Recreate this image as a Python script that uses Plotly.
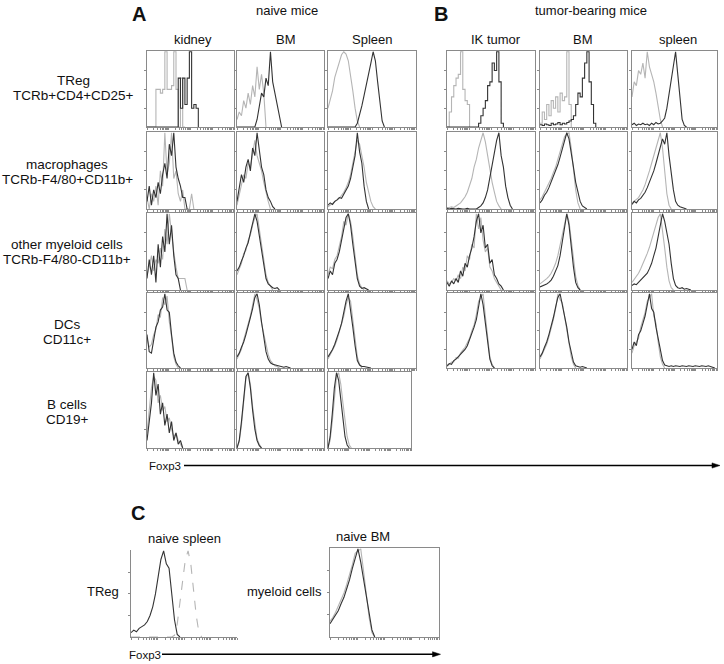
import math
import plotly.graph_objects as go

W, H = 724, 664

# Foxp3 fluorescence bins (log scale, 4 decades across each histogram)
BINS = [0, 1, 2, 3, 4, 5, 6, 7, 8, 9, 10, 11, 12, 13, 14, 15, 16, 17, 18, 19,
        20, 21, 22, 23, 24, 25, 26, 27, 28, 29, 30, 31, 32, 33, 34, 35, 36, 37, 38, 39]

# ---------------- A: naive mice (% of max) ----------------
A_KID_TREG_LIGHT = [0, 0, 0, 0, 50, 50, 45, 50, 100, 50, 50, 55, 100, 50, 0, 65, 0, 0]
A_KID_TREG_DARK = [0, 0, 0, 0, 0, 0, 0, 0, 0, 0, 0, 0, 0, 0, 65, 25, 65, 30, 65, 100, 25, 30, 25, 0]
A_KID_MAC_LIGHT = [15, 0, 20, 10, 30, 5, 50, 30, 100, 45, 60, 100, 40, 50, 20, 10, 25, 0, 0, 0, 20, 0]
A_KID_MAC_DARK = [10, 30, 5, 25, 15, 35, 20, 45, 60, 40, 85, 70, 100, 55, 40, 30, 15, 15, 0]
A_KID_MYE_LIGHT = [20, 30, 45, 25, 40, 35, 55, 40, 80, 60, 100, 70, 50, 30, 15, 15, 15, 15, 0]
A_KID_MYE_DARK = [15, 40, 20, 45, 10, 60, 30, 70, 50, 100, 60, 85, 45, 20, 15, 0]
A_KID_DC_LIGHT = [40, 28, 32, 45, 52, 72, 68, 95, 85, 97, 62, 42, 15, 5, 0]
A_KID_DC_DARK = [45, 22, 20, 38, 55, 62, 78, 82, 100, 78, 75, 45, 20, 8, 3, 0]
A_KID_B_LIGHT = [20, 50, 80, 95, 90, 60, 70, 50, 55, 35, 40, 25, 15, 20, 10, 5, 0]
A_KID_B_DARK = [10, 35, 60, 100, 70, 85, 45, 60, 30, 45, 20, 35, 10, 20, 5, 10, 0]

A_BM_TREG_LIGHT = [10, 20, 15, 35, 25, 45, 30, 55, 40, 80, 50, 70, 45, 0]
A_BM_TREG_DARK = [0, 0, 0, 0, 0, 0, 0, 0, 0, 10, 30, 45, 40, 65, 55, 100, 60, 45, 30, 10, 0]
A_BM_MAC_LIGHT = [5, 20, 35, 45, 40, 60, 55, 75, 90, 70, 60, 50, 35, 20, 10, 0]
A_BM_MAC_DARK = [10, 30, 45, 35, 55, 65, 50, 80, 70, 100, 75, 55, 45, 25, 15, 10, 3, 0]
A_BM_MYE_LIGHT = [20, 28, 35, 48, 52, 65, 72, 85, 95, 100, 80, 60, 40, 20, 10, 5, 0]
A_BM_MYE_DARK = [25, 30, 38, 45, 55, 62, 75, 88, 100, 90, 70, 50, 30, 15, 8, 5, 3, 2, 3, 0]
A_BM_DC_LIGHT = [12, 18, 25, 38, 48, 60, 70, 85, 100, 92, 80, 60, 45, 30, 18, 10, 6, 3, 2, 0]
A_BM_DC_DARK = [15, 20, 28, 35, 45, 55, 68, 80, 95, 100, 85, 62, 40, 22, 12, 7, 5, 4, 3, 2, 2, 1, 2, 1, 0]
A_BM_B_LIGHT = [0, 8, 30, 65, 92, 100, 85, 55, 30, 12, 5, 0]
A_BM_B_DARK = [0, 10, 35, 70, 95, 100, 80, 50, 25, 10, 3, 0]

A_SPL_TREG_LIGHT = [25, 35, 48, 66, 76, 88, 96, 100, 97, 88, 70, 48, 25, 8, 0]
A_SPL_TREG_DARK = [0, 0, 0, 0, 0, 0, 0, 0, 0, 0, 0, 0, 0, 5, 15, 28, 42, 55, 72, 85, 100, 88, 60, 30, 8, 0]
A_SPL_MAC_LIGHT = [3, 5, 8, 10, 12, 14, 18, 22, 28, 35, 45, 60, 80, 90, 85, 70, 55, 35, 20, 10, 3, 0]
A_SPL_MAC_DARK = [5, 8, 6, 10, 12, 15, 14, 20, 25, 30, 40, 55, 70, 100, 75, 60, 30, 10, 0]
A_SPL_MYE_LIGHT = [20, 30, 28, 40, 45, 58, 70, 90, 85, 100, 90, 70, 45, 20, 8, 3, 0]
A_SPL_MYE_DARK = [15, 25, 20, 35, 40, 50, 65, 80, 95, 100, 85, 60, 35, 15, 5, 2, 3, 2, 0]
A_SPL_DC_LIGHT = [12, 18, 22, 30, 38, 48, 58, 70, 85, 95, 90, 65, 38, 15, 5, 0]
A_SPL_DC_DARK = [15, 20, 25, 32, 40, 50, 60, 75, 90, 100, 80, 55, 30, 10, 4, 2, 2, 1, 1, 0]
A_SPL_B_LIGHT = [0, 10, 35, 70, 95, 100, 85, 60, 35, 15, 4, 0]
A_SPL_B_DARK = [0, 15, 45, 80, 100, 90, 65, 35, 15, 4, 0]

# ---------------- B: tumor-bearing mice ----------------
B_IK_TREG_LIGHT = [0, 20, 40, 55, 65, 70, 100, 50, 35, 30, 0]
B_IK_TREG_DARK = [0, 0, 0, 0, 0, 0, 0, 0, 0, 0, 0, 0, 0, 0, 5, 15, 25, 35, 55, 60, 85, 75, 100, 60, 5, 0]
B_BM_TREG_LIGHT = [5, 20, 10, 30, 15, 35, 25, 40, 20, 45, 35, 40, 100, 30, 0]
B_BM_TREG_DARK = [3, 2, 4, 3, 2, 5, 3, 4, 6, 3, 5, 4, 6, 8, 10, 15, 30, 45, 40, 65, 85, 100, 60, 30, 5, 0]
B_SPL_TREG_LIGHT = [40, 60, 55, 75, 70, 85, 65, 100, 80, 70, 60, 45, 25, 10, 0]
B_SPL_TREG_DARK = [3, 5, 2, 4, 3, 5, 3, 4, 2, 5, 3, 6, 4, 5, 8, 12, 25, 45, 60, 80, 100, 70, 40, 10, 2, 0]

B_IK_MAC_LIGHT = [2, 2, 3, 2, 4, 6, 8, 12, 16, 22, 30, 40, 55, 65, 80, 92, 100, 88, 70, 50, 35, 22, 10, 4, 0]
B_IK_MAC_DARK = [1, 0, 1, 0, 0, 1, 0, 0, 0, 1, 0, 0, 0, 0, 2, 4, 8, 15, 25, 40, 55, 75, 90, 100, 70, 55, 30, 15, 5, 0]
B_BM_MAC_LIGHT = [12, 16, 22, 28, 32, 40, 48, 55, 65, 75, 85, 95, 98, 100, 80, 50, 25, 8, 0]
B_BM_MAC_DARK = [8, 12, 18, 22, 28, 35, 42, 50, 58, 68, 78, 88, 100, 92, 75, 55, 35, 20, 10, 4, 2, 0]
B_SPL_MAC_LIGHT = [8, 10, 12, 15, 20, 25, 32, 40, 50, 60, 70, 82, 92, 100, 80, 50, 20, 5, 0]
B_SPL_MAC_DARK = [6, 10, 8, 12, 14, 18, 22, 28, 35, 42, 50, 60, 70, 80, 92, 85, 100, 70, 45, 25, 10, 5, 3, 2, 1, 0]

B_IK_MYE_LIGHT = [12, 8, 10, 15, 12, 20, 15, 30, 25, 45, 40, 60, 55, 100, 80, 95, 65, 50, 55, 30, 25, 15, 10, 5, 0]
B_IK_MYE_DARK = [10, 5, 12, 8, 15, 10, 25, 18, 35, 30, 45, 55, 70, 90, 100, 75, 85, 55, 60, 35, 40, 20, 15, 8, 5, 0]
B_BM_MYE_LIGHT = [8, 10, 12, 15, 18, 22, 28, 35, 45, 58, 72, 88, 100, 90, 65, 40, 18, 6, 0]
B_BM_MYE_DARK = [4, 5, 6, 8, 10, 13, 18, 24, 32, 45, 62, 82, 100, 85, 55, 30, 10, 3, 0]
B_SPL_MYE_LIGHT = [10, 14, 18, 22, 28, 34, 40, 48, 56, 65, 75, 85, 95, 100, 80, 55, 30, 12, 3, 0]
B_SPL_MYE_DARK = [6, 8, 7, 10, 12, 15, 18, 22, 28, 35, 45, 55, 70, 88, 100, 90, 75, 60, 35, 15, 6, 3, 2, 3, 1, 2, 1, 0]

B_IK_DC_LIGHT = [2, 5, 8, 8, 14, 13, 20, 24, 28, 34, 40, 50, 58, 72, 90, 95, 100, 70, 40, 15, 5, 0]
B_IK_DC_DARK = [3, 6, 5, 10, 12, 15, 18, 22, 25, 30, 38, 45, 55, 65, 80, 100, 85, 60, 35, 12, 3, 0]
B_BM_DC_LIGHT = [12, 18, 25, 32, 42, 52, 65, 80, 100, 92, 88, 70, 50, 30, 15, 5, 0]
B_BM_DC_DARK = [15, 20, 28, 35, 45, 55, 68, 82, 95, 100, 85, 72, 55, 35, 20, 8, 3, 2, 1, 2, 1, 0]
B_SPL_DC_LIGHT = [20, 30, 35, 40, 55, 65, 75, 90, 95, 100, 70, 60, 35, 15, 5, 0]
B_SPL_DC_DARK = [25, 35, 30, 45, 50, 60, 70, 85, 100, 80, 75, 55, 40, 22, 10, 4, 3, 2, 3, 2, 3, 2, 2, 3,
                 2, 2, 3, 2, 2, 3, 2, 2, 3, 2, 2, 3, 2, 2, 0]

# ---------------- C ----------------
C_SPL_TREG_DARK = [5, 8, 6, 10, 12, 14, 18, 25, 35, 50, 70, 90, 100, 85, 80, 50, 20, 3, 0]
C_SPL_TREG_LIGHT = [0, 0, 0, 0, 0, 0, 0, 0, 0, 0, 0, 0, 0, 0, 0, 0, 2, 15, 40, 65, 90, 100, 85, 55, 25, 5, 0]
C_BM_MYE_LIGHT = [18, 22, 28, 35, 42, 50, 60, 70, 82, 95, 98, 100, 75, 50, 22, 5, 0]
C_BM_MYE_DARK = [15, 20, 25, 30, 38, 45, 55, 65, 78, 90, 100, 85, 65, 45, 25, 8, 0]

COL_HEADERS_A = ["kidney", "BM", "Spleen"]
COL_HEADERS_B = ["IK tumor", "BM", "spleen"]
ROW_LABELS = [("TReg", "TCRb+CD4+CD25+"), ("macrophages", "TCRb-F4/80+CD11b+"),
              ("other myeloid cells", "TCRb-F4/80-CD11b+"), ("DCs", "CD11c+"), ("B cells", "CD19+")]

# ---------------- styling / layout ----------------
LIGHT = "#b5b5b5"
DARK = "#333333"
FRAME = "#8a8a8a"
FONT = "Liberation Sans, Arial, sans-serif"
TXT = "#111111"

A_COLS = [(147, 234), (237, 324), (328, 416)]
B_COLS = [(447, 535), (540, 627), (632, 717)]
ROWS = [(51, 127), (132, 209), (213, 290), (293, 368), (372, 448)]

XTICKS = [round(d * 9.75 + 9.75 * math.log10(k), 3) for d in range(4) for k in range(1, 10)] + [39]

fig = go.Figure()
axes = {}
count = [0]


def add_panel(x0, x1, y0, y1, light, dark, step=False, box=True, light_dash="solid", dark_dash="solid"):
    count[0] += 1
    n = count[0]
    xa = "x" if n == 1 else f"x{n}"
    ya = "y" if n == 1 else f"y{n}"
    shape = "hv" if step else "linear"
    fig.add_trace(go.Scatter(x=BINS[:len(light)], y=light, xaxis=xa, yaxis=ya, mode="lines",
                             line=dict(color=LIGHT, width=1.1, shape=shape, dash=light_dash),
                             hoverinfo="skip", showlegend=False))
    fig.add_trace(go.Scatter(x=BINS[:len(dark)], y=dark, xaxis=xa, yaxis=ya, mode="lines",
                             line=dict(color=DARK, width=1.1, shape=shape, dash=dark_dash),
                             hoverinfo="skip", showlegend=False))
    xk = "xaxis" if n == 1 else f"xaxis{n}"
    yk = "yaxis" if n == 1 else f"yaxis{n}"
    axes[xk] = dict(domain=[x0 / W, x1 / W], range=[0, 39], anchor=ya, showline=True, mirror=box,
                    linecolor=FRAME, linewidth=1, ticks="outside", ticklen=2, tickcolor=FRAME,
                    tickwidth=1, tickvals=XTICKS, showticklabels=False, showgrid=False,
                    zeroline=False, fixedrange=True)
    axes[yk] = dict(domain=[1 - y1 / H, 1 - y0 / H], range=[0, 101], anchor=xa, showline=True,
                    mirror=box, linecolor=FRAME, linewidth=1, ticks="outside", ticklen=2,
                    tickcolor=FRAME, tickwidth=1, tickvals=[25, 50, 75], showticklabels=False,
                    showgrid=False, zeroline=False, fixedrange=True)


A_DATA = [
    [(A_KID_TREG_LIGHT, A_KID_TREG_DARK, True), (A_BM_TREG_LIGHT, A_BM_TREG_DARK, False), (A_SPL_TREG_LIGHT, A_SPL_TREG_DARK, False)],
    [(A_KID_MAC_LIGHT, A_KID_MAC_DARK, False), (A_BM_MAC_LIGHT, A_BM_MAC_DARK, False), (A_SPL_MAC_LIGHT, A_SPL_MAC_DARK, False)],
    [(A_KID_MYE_LIGHT, A_KID_MYE_DARK, False), (A_BM_MYE_LIGHT, A_BM_MYE_DARK, False), (A_SPL_MYE_LIGHT, A_SPL_MYE_DARK, False)],
    [(A_KID_DC_LIGHT, A_KID_DC_DARK, False), (A_BM_DC_LIGHT, A_BM_DC_DARK, False), (A_SPL_DC_LIGHT, A_SPL_DC_DARK, False)],
    [(A_KID_B_LIGHT, A_KID_B_DARK, False), (A_BM_B_LIGHT, A_BM_B_DARK, False), (A_SPL_B_LIGHT, A_SPL_B_DARK, False)],
]
B_DATA = [
    [(B_IK_TREG_LIGHT, B_IK_TREG_DARK, True), (B_BM_TREG_LIGHT, B_BM_TREG_DARK, True), (B_SPL_TREG_LIGHT, B_SPL_TREG_DARK, False)],
    [(B_IK_MAC_LIGHT, B_IK_MAC_DARK, False), (B_BM_MAC_LIGHT, B_BM_MAC_DARK, False), (B_SPL_MAC_LIGHT, B_SPL_MAC_DARK, False)],
    [(B_IK_MYE_LIGHT, B_IK_MYE_DARK, False), (B_BM_MYE_LIGHT, B_BM_MYE_DARK, False), (B_SPL_MYE_LIGHT, B_SPL_MYE_DARK, False)],
    [(B_IK_DC_LIGHT, B_IK_DC_DARK, False), (B_BM_DC_LIGHT, B_BM_DC_DARK, False), (B_SPL_DC_LIGHT, B_SPL_DC_DARK, False)],
]

for r, row in enumerate(A_DATA):
    for c, (lt, dk, st) in enumerate(row):
        x0, x1 = A_COLS[c]
        if r == 4 and c == 2:
            x1 = 411
        add_panel(x0, x1, ROWS[r][0], ROWS[r][1], lt, dk, step=st)

for r, row in enumerate(B_DATA):
    for c, (lt, dk, st) in enumerate(row):
        x0, x1 = B_COLS[c]
        add_panel(x0, x1, ROWS[r][0], ROWS[r][1], lt, dk, step=st)

add_panel(131, 237, 550, 637, C_SPL_TREG_LIGHT, C_SPL_TREG_DARK, box=False, light_dash="dash")
add_panel(330, 439, 548, 637, C_BM_MYE_LIGHT, C_BM_MYE_DARK)

annotations = []


def text(s, x, y, size=13, anchor="center", bold=False):
    annotations.append(dict(text=f"<b>{s}</b>" if bold else s, x=x / W, y=1 - y / H, xref="paper",
                            yref="paper", xanchor=anchor, yanchor="middle", showarrow=False,
                            font=dict(family=FONT, size=size, color=TXT)))


text("A", 139, 14, size=20, bold=True)
text("naive mice", 287, 11)
text("B", 441, 14, size=20, bold=True)
text("tumor-bearing mice", 590.5, 11)
for s, x in zip(COL_HEADERS_A, [192.7, 286, 372]):
    text(s, x, 40)
for s, x in zip(COL_HEADERS_B, [496.5, 583, 677.5]):
    text(s, x, 40)

label_x = [73.5, 67, 67, 67, 67]
label_y = [(81, 95.5), (164.5, 179.5), (244, 259), (324, 339), (404, 419)]
for (l1, l2), lx, (ly1, ly2) in zip(ROW_LABELS, label_x, label_y):
    text(l1, lx, ly1, size=13.5)
    text(l2, lx, ly2, size=13.5)

text("Foxp3", 147, 466, size=11.5, anchor="left")
text("C", 138, 513, size=20, bold=True)
text("naive spleen", 184, 538)
text("naive BM", 363, 536)
text("TReg", 121, 591, anchor="right")
text("myeloid cells", 324, 591, anchor="right")
text("Foxp3", 126.5, 655, size=11.5, anchor="left")


def arrow(x0, x1, y, head=8, half=2.6):
    return [
        dict(type="line", xref="paper", yref="paper", x0=x0 / W, x1=(x1 - head + 1) / W,
             y0=1 - y / H, y1=1 - y / H, line=dict(color="#000000", width=1.6)),
        dict(type="path", xref="paper", yref="paper",
             path=f"M {(x1 - head) / W} {1 - (y - half) / H} L {x1 / W} {1 - y / H} L {(x1 - head) / W} {1 - (y + half) / H} Z",
             fillcolor="#000000", line=dict(color="#000000", width=0.5)),
    ]


shapes = arrow(184, 720, 465.5) + arrow(162, 440.5, 654.3)

fig.update_layout(width=W, height=H, margin=dict(l=0, r=0, t=0, b=0, pad=0),
                  paper_bgcolor="white", plot_bgcolor="white", showlegend=False,
                  annotations=annotations, shapes=shapes, **axes)

fig.write_html("out.html", config={"displayModeBar": False},
               post_script="document.body.style.margin='0';document.body.style.padding='0';"
                           "document.documentElement.style.overflow='hidden';")
